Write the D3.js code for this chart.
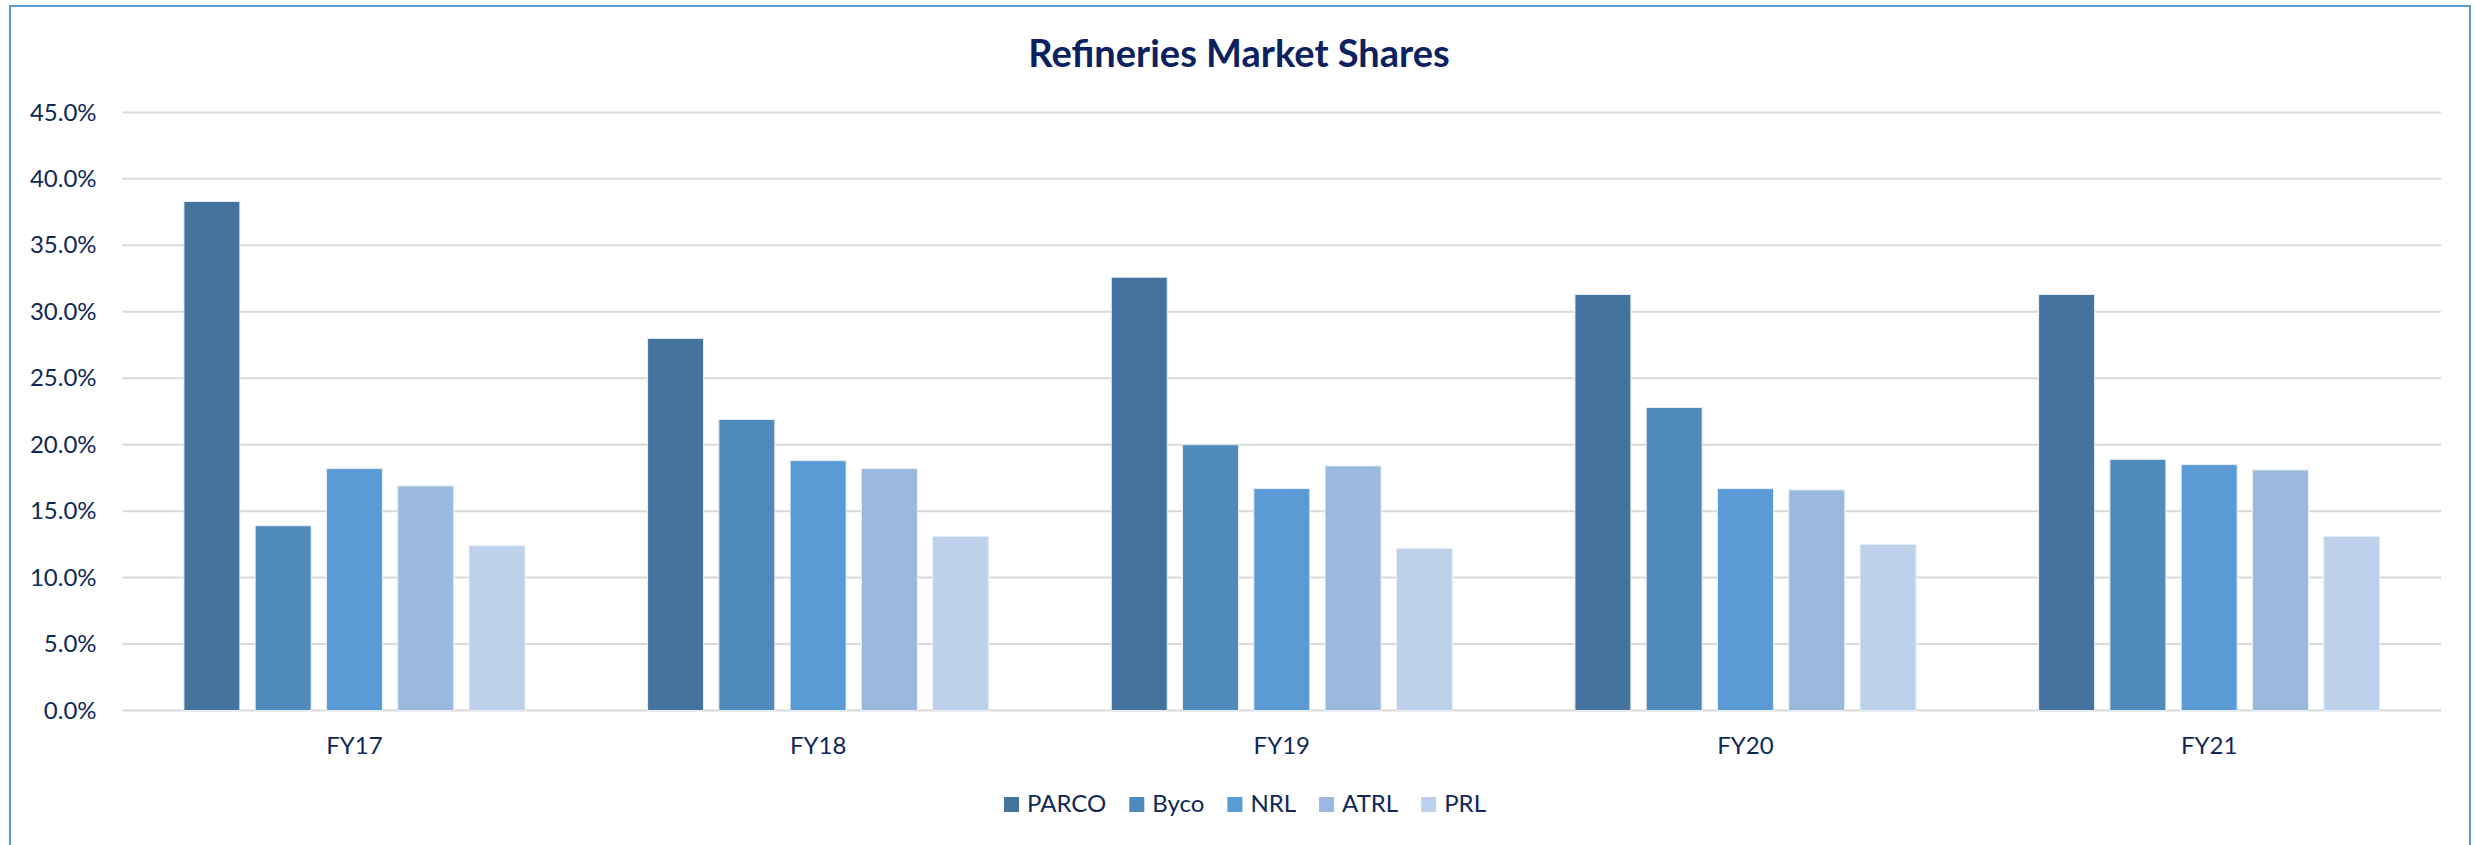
<!DOCTYPE html>
<html>
<head>
<meta charset="utf-8">
<script src="https://cdn.jsdelivr.net/npm/d3@7"></script>
<style>
  body { margin: 0; background: #fff; }
  svg { display: block; font-family: Lato, "Open Sans", sans-serif; }
</style>
</head>
<body>
<div id="chart"></div>
<script>
// Refineries market shares, per fiscal year (percent)
const years = ["FY17", "FY18", "FY19", "FY20", "FY21"];
const refineries = ["PARCO", "Byco", "NRL", "ATRL", "PRL"];
const parco = [38.3, 28.0, 32.6, 31.3, 31.3];
const byco = [13.9, 21.9, 20.0, 22.8, 18.9];
const nrl = [18.2, 18.8, 16.7, 16.7, 18.5];
const atrl = [16.9, 18.2, 18.4, 16.6, 18.1];
const prl = [12.4, 13.1, 12.2, 12.5, 13.1];
const yTicks = [0, 5, 10, 15, 20, 25, 30, 35, 40, 45];
const colors = ["#44739e", "#5089bc", "#5b9bd5", "#9bb9df", "#bdd1ea"];

const seriesValues = [parco, byco, nrl, atrl, prl];
const textColor = "#0f2857";

const width = 2475, height = 845;
const margin = { left: 122.6, right: 34, top: 112.4, bottom: 134.5 };

const svg = d3.select("#chart")
  .append("svg")
  .attr("width", width)
  .attr("height", height);

// chart frame
svg.append("rect")
  .attr("x", 10).attr("y", 6)
  .attr("width", 2460).attr("height", 900)
  .attr("fill", "#fff")
  .attr("stroke", "#5b9bd5")
  .attr("stroke-width", 2);

const x0 = d3.scaleBand()
  .domain(years)
  .range([margin.left, width - margin.right]);

const x1 = d3.scaleBand()
  .domain(refineries)
  .range([0, x0.bandwidth()])
  .paddingInner(0.215)
  .paddingOuter(0.86);

const y = d3.scaleLinear()
  .domain([0, 45])
  .range([height - margin.bottom, margin.top]);

// gridlines
svg.append("g")
  .selectAll("line")
  .data(yTicks)
  .join("line")
  .attr("x1", margin.left)
  .attr("x2", width - margin.right)
  .attr("y1", d => y(d))
  .attr("y2", d => y(d))
  .attr("stroke", "#d9d9d9")
  .attr("stroke-width", 2);

// y axis labels
const yAxis = d3.axisLeft(y)
  .tickValues(yTicks)
  .tickFormat(d => d3.format(".1f")(d) + "%")
  .tickSize(0)
  .tickPadding(26);

svg.append("g")
  .attr("transform", `translate(${margin.left},0)`)
  .call(yAxis)
  .call(g => g.select(".domain").remove())
  .call(g => g.selectAll("text")
    .attr("fill", textColor)
    .attr("font-size", 24)
    .attr("font-family", "Lato, sans-serif"));

// bars
const groups = svg.append("g")
  .selectAll("g")
  .data(years)
  .join("g")
  .attr("transform", d => `translate(${x0(d)},0)`);

groups.selectAll("rect")
  .data((d, i) => refineries.map((r, j) => ({ key: r, value: seriesValues[j][i], idx: j })))
  .join("rect")
  .attr("x", d => x1(d.key))
  .attr("width", x1.bandwidth())
  .attr("y", d => y(d.value))
  .attr("height", d => y(0) - y(d.value))
  .attr("fill", d => colors[d.idx])
  .attr("stroke", "#e8eef7")
  .attr("stroke-width", 1);

// x axis labels
const xAxis = d3.axisBottom(x0).tickSize(0).tickPadding(26);
svg.append("g")
  .attr("transform", `translate(0,${y(0)})`)
  .call(xAxis)
  .call(g => g.select(".domain").remove())
  .call(g => g.selectAll("text")
    .attr("fill", textColor)
    .attr("font-size", 24)
    .attr("font-family", "Lato, sans-serif"));

// title
svg.append("text")
  .attr("x", 1239)
  .attr("y", 67)
  .attr("text-anchor", "middle")
  .attr("fill", "#0b2160")
  .attr("font-size", 38)
  .attr("font-weight", "bold")
  .text("Refineries Market Shares");

// legend
const legend = svg.append("g");
const items = legend.selectAll("g")
  .data(refineries)
  .join("g");

items.append("rect")
  .attr("width", 15)
  .attr("height", 15)
  .attr("y", 797)
  .attr("fill", (d, i) => colors[i]);

items.append("text")
  .attr("x", 23)
  .attr("y", 812)
  .attr("fill", textColor)
  .attr("font-size", 24)
  .text(d => d);

let offset = 0;
const widths = [];
items.each(function () {
  const w = d3.select(this).select("text").node().getComputedTextLength();
  widths.push(23 + w);
});
const total = d3.sum(widths) + 23 * (widths.length - 1);
offset = 1245 - total / 2;
items.attr("transform", (d, i) => {
  const t = `translate(${offset},0)`;
  offset += widths[i] + 23;
  return t;
});
</script>
</body>
</html>
